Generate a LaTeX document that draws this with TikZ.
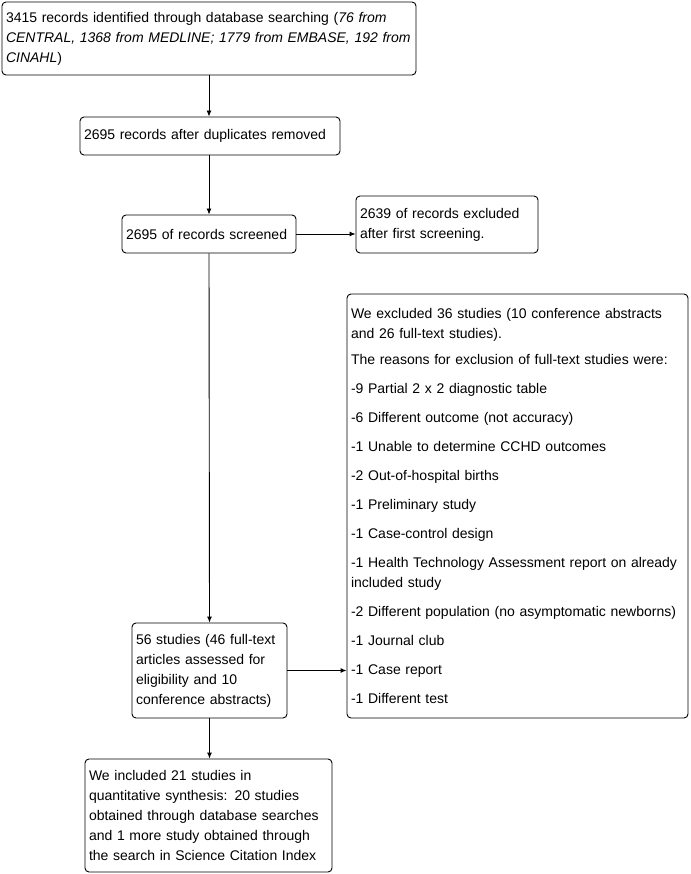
\documentclass[tikz,border=0pt]{standalone}
\usepackage{fontspec}
\setmainfont{Liberation Sans}
\usetikzlibrary{arrows.meta,positioning}

\begin{document}
\begin{tikzpicture}[
    x=1pt, y=-1pt,
    every node/.style={font=\fontsize{14}{20}\selectfont},
    box/.style={draw, rounded corners=4pt, line width=0.9pt, align=left, inner xsep=4pt, inner ysep=0pt},
    flow/.style={-{Latex[length=6pt,width=5pt]}, line width=0.9pt}
]
\useasboundingbox (0,0) rectangle (690,874);
\node[box, text width=406pt, minimum height=73pt] (search) at (209,38.5) {3415 records identified through database searching (\textit{76 from}\\\textit{CENTRAL, 1368 from MEDLINE; 1779 from EMBASE, 192 from}\\\textit{CINAHL})};
\node[box, text width=252pt, minimum height=38pt] (dedup) at (210,136) {2695 records after duplicates removed};
\node[box, text width=166pt, minimum height=38pt] (screened) at (209,234) {2695 of records screened};
\node[box, text width=174pt, minimum height=57pt] (excluded) at (447,224.5) {2639 of records excluded\\after first screening.\par\vspace*{5pt}};
\node[box, text width=333pt, minimum height=424pt] (reasons) at (517.5,506) {We excluded 36 studies (10 conference abstracts\\and 26 full-text studies).\\[6pt]The reasons for exclusion of full-text studies were:\\[9pt]-9 Partial 2 x 2 diagnostic table\\[9pt]-6 Different outcome (not accuracy)\\[9pt]-1 Unable to determine CCHD outcomes\\[9pt]-2 Out-of-hospital births\\[9pt]-1 Preliminary study\\[9pt]-1 Case-control design\\[9pt]-1 Health Technology Assessment report on already\\included study\\[9pt]-2 Different population (no asymptomatic newborns)\\[9pt]-1 Journal club\\[9pt]-1 Case report\\[9pt]-1 Different test\par\vspace*{8pt}};
\node[box, text width=147pt, minimum height=95pt] (fulltext) at (209.5,670.5) {56 studies (46 full-text\\articles assessed for\\eligibility and 10\\conference abstracts)\par\vspace*{4pt}};
\node[box, text width=239pt, minimum height=113pt] (included) at (208.5,815.5) {We included 21 studies in\\quantitative synthesis: 20 studies\\obtained through database searches\\and 1 more study obtained through\\the search in Science Citation Index};
% connectors
\draw[flow] (search.south) -- (search.south |- dedup.north);
\draw[flow] (search.south |- dedup.south) -- (screened.north);
\draw[flow] (screened.east) -- (screened.east -| excluded.west);
\draw[flow] (screened.south) -- (fulltext.north);
\draw[flow] (fulltext.east) -- (fulltext.east -| reasons.west);
\draw[flow] (fulltext.south) -- (fulltext.south |- included.north);
\end{tikzpicture}
\end{document}
